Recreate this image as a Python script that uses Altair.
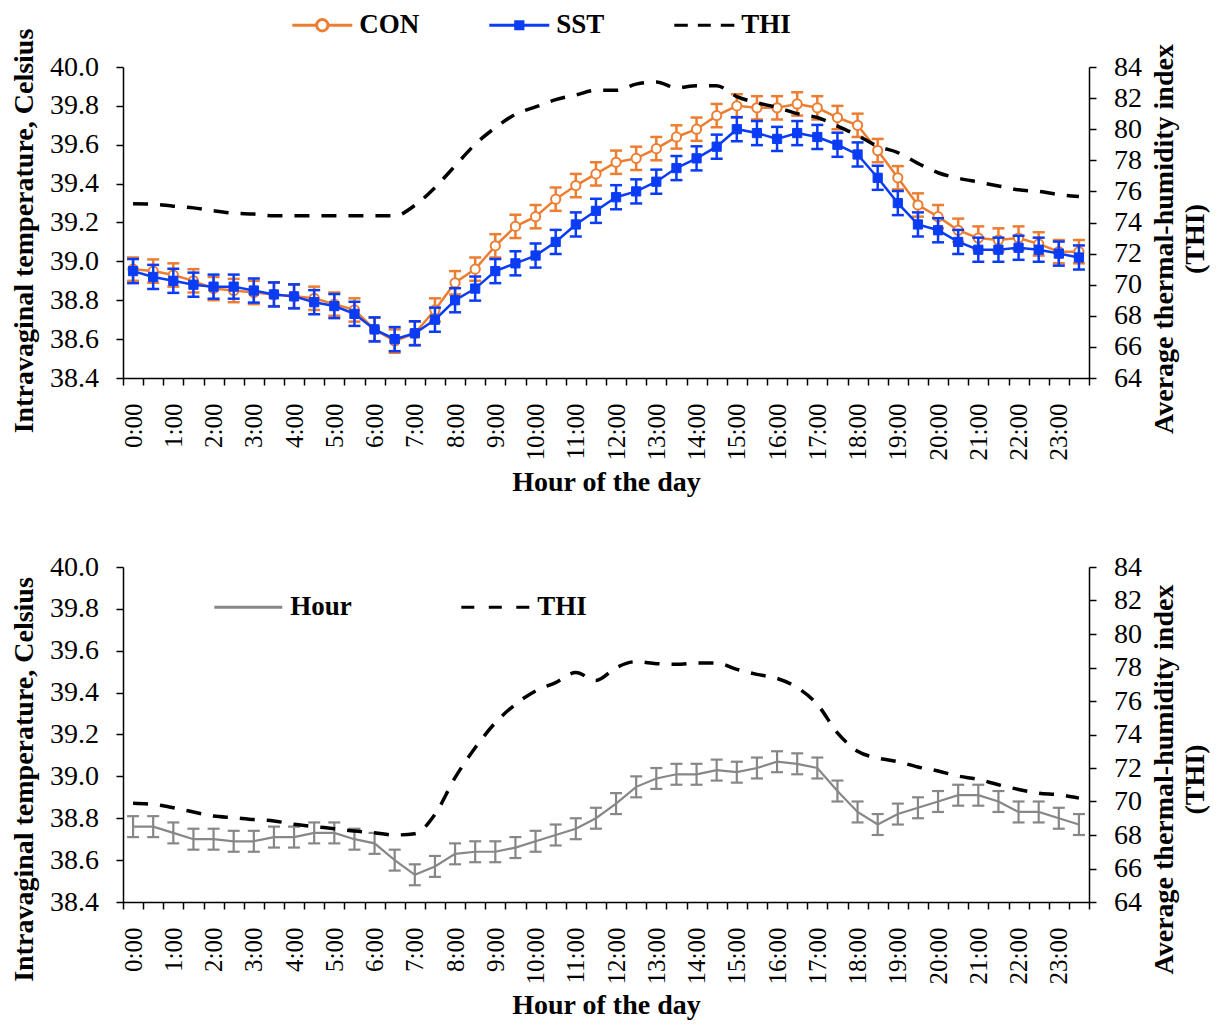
import json
import altair as alt
import pandas as pd

# ---------------- data ----------------
hours = list(range(48))  # half-hour slots 0:00 ... 23:30
tick_labels = ["0:00", "1:00", "2:00", "3:00", "4:00", "5:00", "6:00", "7:00",
               "8:00", "9:00", "10:00", "11:00", "12:00", "13:00", "14:00", "15:00",
               "16:00", "17:00", "18:00", "19:00", "20:00", "21:00", "22:00", "23:00"]
temp_ticks = [38.4, 38.6, 38.8, 39.0, 39.2, 39.4, 39.6, 39.8, 40.0]
thi_ticks = [64, 66, 68, 70, 72, 74, 76, 78, 80, 82, 84]

con_mean = [38.96, 38.95, 38.93, 38.90, 38.86, 38.85, 38.84, 38.83, 38.82, 38.81,
            38.78, 38.75, 38.65, 38.59, 38.63, 38.75, 38.89, 38.96, 39.08, 39.18,
            39.23, 39.32, 39.39, 39.45, 39.51, 39.53, 39.58, 39.64, 39.68, 39.75,
            39.80, 39.79, 39.79, 39.81, 39.79, 39.74, 39.70, 39.57, 39.43, 39.29,
            39.23, 39.16, 39.12, 39.11, 39.12, 39.09, 39.05, 39.05]
con_err = [0.06, 0.06, 0.06, 0.06, 0.06, 0.06, 0.06, 0.06, 0.06, 0.06,
           0.06, 0.06, 0.06, 0.06, 0.06, 0.06, 0.06, 0.06, 0.06, 0.06,
           0.06, 0.06, 0.06, 0.06, 0.06, 0.06, 0.06, 0.06, 0.06, 0.06,
           0.06, 0.06, 0.06, 0.06, 0.06, 0.06, 0.06, 0.06, 0.06, 0.06,
           0.06, 0.06, 0.06, 0.06, 0.06, 0.06, 0.06, 0.06]
sst_mean = [38.95, 38.92, 38.90, 38.88, 38.87, 38.87, 38.85, 38.83, 38.82, 38.79,
            38.77, 38.73, 38.65, 38.60, 38.63, 38.70, 38.80, 38.86, 38.95, 38.99,
            39.03, 39.10, 39.19, 39.26, 39.33, 39.36, 39.41, 39.48, 39.53, 39.59,
            39.68, 39.66, 39.63, 39.66, 39.64, 39.60, 39.55, 39.43, 39.30, 39.19,
            39.16, 39.10, 39.06, 39.06, 39.07, 39.06, 39.04, 39.02]
sst_err = [0.062, 0.062, 0.062, 0.062, 0.062, 0.062, 0.062, 0.062, 0.062, 0.062,
           0.062, 0.062, 0.062, 0.062, 0.062, 0.062, 0.062, 0.062, 0.062, 0.062,
           0.062, 0.062, 0.062, 0.062, 0.062, 0.062, 0.062, 0.062, 0.062, 0.062,
           0.062, 0.062, 0.062, 0.062, 0.062, 0.062, 0.062, 0.062, 0.062, 0.062,
           0.062, 0.062, 0.062, 0.062, 0.062, 0.062, 0.062, 0.062]
thi_top = [75.20, 75.18, 75.05, 74.94, 74.75, 74.60, 74.54, 74.43, 74.43, 74.43,
           74.43, 74.43, 74.43, 74.43, 75.10, 76.25, 77.64, 79.03, 80.10, 80.96,
           81.43, 81.90, 82.20, 82.50, 82.50, 82.90, 83.04, 82.67, 82.80, 82.80,
           82.10, 81.70, 81.40, 81.00, 80.75, 80.20, 79.60, 78.90, 78.50, 77.80,
           77.20, 76.85, 76.60, 76.35, 76.10, 76.00, 75.80, 75.67]

hour_mean = [38.76, 38.76, 38.73, 38.70, 38.70, 38.69, 38.69, 38.71, 38.71, 38.73,
             38.73, 38.70, 38.68, 38.60, 38.53, 38.57, 38.63, 38.64, 38.64, 38.66,
             38.69, 38.72, 38.75, 38.80, 38.87, 38.95, 38.99, 39.01, 39.01, 39.03,
             39.02, 39.04, 39.07, 39.06, 39.04, 38.93, 38.83, 38.77, 38.82, 38.85,
             38.88, 38.91, 38.91, 38.88, 38.83, 38.83, 38.80, 38.77]
hour_err = [0.05, 0.05, 0.05, 0.05, 0.05, 0.05, 0.05, 0.05, 0.05, 0.05,
            0.05, 0.05, 0.05, 0.05, 0.05, 0.05, 0.05, 0.05, 0.05, 0.05,
            0.05, 0.05, 0.05, 0.05, 0.05, 0.05, 0.05, 0.05, 0.05, 0.05,
            0.05, 0.05, 0.05, 0.05, 0.05, 0.05, 0.05, 0.05, 0.05, 0.05,
            0.05, 0.05, 0.05, 0.05, 0.05, 0.05, 0.05, 0.05]
thi_bottom = [69.89, 69.83, 69.63, 69.37, 69.13, 69.03, 68.92, 68.84, 68.64, 68.50,
              68.38, 68.24, 68.14, 68.00, 68.08, 69.23, 71.42, 73.21, 74.70, 75.80,
              76.60, 77.10, 77.70, 77.23, 77.99, 78.35, 78.23, 78.19, 78.27, 78.27,
              77.89, 77.59, 77.35, 76.80, 75.80, 74.10, 73.00, 72.60, 72.38, 72.06,
              71.82, 71.52, 71.32, 71.00, 70.72, 70.50, 70.40, 70.20]

top_series = ["CON", "SST", "THI"]
bottom_series = ["Hour", "THI"]

# ---------------- styling ----------------
FONT = "Liberation Serif"
W = 966
H_TOP = 311
H_BOT = 335
HALF_BAND = W / 48 / 2
ORANGE = "#ED7D31"
BLUE = "#0B3CF5"
GRAY = "#878787"

label_expr = ("((datum.value + 0.5) % 2 == 0 && datum.value < 47) ? "
              + json.dumps(tick_labels) + "[(datum.value + 0.5) / 2] : ''")

x_scale = alt.Scale(domain=[-0.5, 47.5], nice=False, zero=False)
yl_scale = alt.Scale(domain=[38.4, 40.0], nice=False, zero=False)
yr_scale = alt.Scale(domain=[64, 84], nice=False, zero=False)


def make_axes(title_pad_x, left_title_y, right_title_y):
    x_axis = alt.Axis(values=[k - 0.5 for k in range(49)], labelExpr=label_expr,
                      labelAngle=270, labelOffset=HALF_BAND, labelOverlap=False,
                      labelFlush=False, labelPadding=18, labelFontSize=25, tickSize=7,
                      title="Hour of the day", titlePadding=title_pad_x, grid=False)
    yl_axis = alt.Axis(values=temp_ticks, format=".1f", tickSize=7, labelPadding=17.5,
                       title="Intravaginal temperature, Celsius", titlePadding=11,
                       titleY=left_title_y, grid=False)
    yr_axis = alt.Axis(orient="right", values=thi_ticks, tickSize=7, labelPadding=17.5,
                       title=["Average thermal-humidity index", "(THI)"], titleAngle=270,
                       titleBaseline="top", titlePadding=-22, titleLineHeight=31,
                       titleY=right_title_y, grid=False)
    return x_axis, yl_axis, yr_axis


def series_layers(axes, mean, err, color, sw, point=None):
    x_axis, yl_axis, _ = axes

    def xenc():
        return alt.X("i:Q", scale=x_scale, axis=x_axis)

    def yl(field):
        return alt.Y(field, scale=yl_scale, axis=yl_axis)

    df = pd.DataFrame({"i": hours, "m": mean,
                       "lo": [a - b for a, b in zip(mean, err)],
                       "hi": [a + b for a, b in zip(mean, err)]})
    base = alt.Chart(df)
    layers = [
        base.mark_rule(color=color, strokeWidth=sw, opacity=1).encode(
            x=xenc(), y=yl("lo:Q"), y2="hi:Q"),
        base.mark_tick(orient="horizontal", color=color, size=12, thickness=sw,
                       opacity=1).encode(x=xenc(), y=yl("lo:Q")),
        base.mark_tick(orient="horizontal", color=color, size=12, thickness=sw,
                       opacity=1).encode(x=xenc(), y=yl("hi:Q")),
        base.mark_line(color=color, strokeWidth=sw).encode(x=xenc(), y=yl("m:Q")),
    ]
    if point == "circle":
        layers.append(base.mark_point(shape="circle", size=85, filled=True, fill="white",
                                      stroke=color, strokeWidth=2, opacity=1).encode(
            x=xenc(), y=yl("m:Q")))
    elif point == "square":
        layers.append(base.mark_point(shape="square", size=85, filled=True, fill=color,
                                      stroke=color, strokeWidth=1, opacity=1).encode(
            x=xenc(), y=yl("m:Q")))
    return layers


def thi_layer(axes, values):
    x_axis, _, yr_axis = axes
    df = pd.DataFrame({"i": hours, "thi": values})
    return alt.Chart(df).mark_line(color="black", strokeWidth=3.5, strokeDash=[15, 12],
                                   interpolate="monotone").encode(
        x=alt.X("i:Q", scale=x_scale, axis=x_axis),
        y=alt.Y("thi:Q", scale=yr_scale, axis=yr_axis))


def legend_layer(names, field, colors, shapes, legend):
    df = pd.DataFrame({field: names})
    return alt.Chart(df).transform_filter("false").mark_point(filled=False, opacity=1).encode(
        x=alt.value(0), y=alt.value(0),
        color=alt.Color(f"{field}:N", scale=alt.Scale(domain=names, range=colors), legend=legend),
        shape=alt.Shape(f"{field}:N", scale=alt.Scale(domain=names, range=shapes), legend=legend))


# legend symbol paths (symbol size 576 -> 12 px per unit)
P_CON = ("M-2.5,0H-0.475M0.475,0H2.5M-0.475,0A0.475,0.475,0,1,1,0.475,0"
         "A0.475,0.475,0,1,1,-0.475,0Z")
P_SST = "M-2.5,0H2.5M-0.425,-0.3H0.425M-0.425,-0.1H0.425M-0.425,0.1H0.425M-0.425,0.3H0.425"
P_THI = "M-2.5,0H-1.375M-0.54,0H0.54M1.375,0H2.5"
P_LINE = "M-2.833,0H2.833"
P_THI2 = "M-2.833,0H-1.75M-0.542,0H0.542M1.75,0H2.833"

top_legend = alt.Legend(title=None, orient="none", legendX=185.8, legendY=-55.5,
                        direction="horizontal", symbolSize=576, symbolStrokeWidth=3,
                        symbolOpacity=1, labelFont=FONT, labelFontSize=27,
                        labelFontWeight="bold", labelColor="black", labelOffset=23.5,
                        columnPadding=63, padding=0, symbolOffset=0, labelLimit=0)
bottom_legend = alt.Legend(title=None, orient="none", legendX=111.8, legendY=26.5,
                           direction="horizontal", symbolSize=576, symbolStrokeWidth=3,
                           symbolOpacity=1, labelFont=FONT, labelFontSize=27,
                           labelFontWeight="bold", labelColor="black", labelOffset=28.5,
                           columnPadding=102, padding=0, symbolOffset=0, labelLimit=0)

top_axes = make_axes(8.8, 163.5, 171.5)
top_temp = alt.layer(
    *series_layers(top_axes, con_mean, con_err, ORANGE, 2.5, "circle"),
    *series_layers(top_axes, sst_mean, sst_err, BLUE, 2.5, "square"),
    legend_layer(top_series, "series_top", [ORANGE, BLUE, "black"], [P_CON, P_SST, P_THI], top_legend),
)
top = alt.layer(top_temp, thi_layer(top_axes, thi_top)).resolve_scale(y="independent").properties(
    width=W, height=H_TOP)

bottom_axes = make_axes(7.8, 212, 212)
bottom_temp = alt.layer(
    *series_layers(bottom_axes, hour_mean, hour_err, GRAY, 2.2),
    legend_layer(bottom_series, "series_bottom", [GRAY, "black"], [P_LINE, P_THI2], bottom_legend),
)
bottom = alt.layer(bottom_temp, thi_layer(bottom_axes, thi_bottom)).resolve_scale(y="independent").properties(
    width=W, height=H_BOT)

chart = alt.vconcat(top, bottom, spacing=56).resolve_scale(
    color="independent", shape="independent"
).configure_view(stroke=None).configure_axis(
    domainColor="black", domainWidth=1.5, tickColor="black", tickWidth=1.5,
    labelFont=FONT, labelFontSize=28, labelColor="black",
    titleFont=FONT, titleFontSize=28, titleFontWeight="bold", titleColor="black",
    grid=False
).properties(padding={"left": 2, "top": 3, "right": 0, "bottom": 0}, background="white")

chart.save("out.html", embed_options={"renderer": "svg", "actions": False})
